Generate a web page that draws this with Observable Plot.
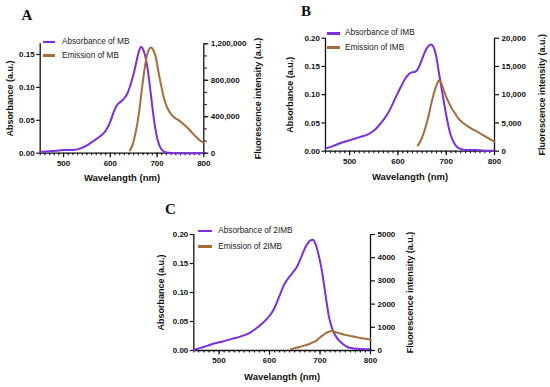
<!DOCTYPE html>
<html><head><meta charset="utf-8">
<script src="https://cdn.jsdelivr.net/npm/d3@7"></script>
<script src="https://cdn.jsdelivr.net/npm/@observablehq/plot@0.6"></script>
<style>
body{margin:0;background:#fff}
#c{position:relative;width:550px;height:387px;overflow:hidden;font-family:"Liberation Sans",Arial,sans-serif;background:#fff}
#c svg{position:absolute;left:0;top:0}
.lg{position:absolute;font-size:8.2px;color:#1a1a1a;white-space:nowrap;line-height:10px;height:10px}
.sw{position:absolute;height:2.6px;width:12.5px}
.let{position:absolute;font-family:"Liberation Serif","DejaVu Serif",serif;font-weight:bold;font-size:15px;line-height:15px;color:#111}
</style></head><body><div id="c"></div><script>
// ---- data (wavelength nm / values) ----
const xTicks = [500, 600, 700, 800];
const xMinor = d3.range(450, 801, 10);
const titleX = "Wavelangth (nm)";
const titleAbs = "Absorbance (a.u.)";
const titleEm = "Fluorescence intensity (a.u.)";

// Panel A: MB
const absA_nm  = [450,470,490,500,520,535,550,565,575,590,600,608,614,620,628,636,644,652,658,663,666,670,675,680,685,690,695,700,706,712,720,740,800];
const absA_val = [0.002,0.003,0.004,0.005,0.005,0.007,0.012,0.019,0.024,0.034,0.048,0.064,0.073,0.077,0.082,0.090,0.106,0.127,0.146,0.159,0.162,0.158,0.147,0.127,0.100,0.070,0.043,0.024,0.010,0.004,0.001,0.000,0.000];
const emA_nm   = [642,648,653,658,662,667,672,677,682,687,692,697,702,708,714,720,727,735,745,755,765,775,785,792,800];
const emA_val  = [30000,100000,200000,330000,470000,680000,880000,1040000,1130000,1160000,1130000,1060000,920000,760000,620000,520000,450000,400000,365000,325000,280000,225000,172000,140000,115000];
const absA_ticks = [0, 0.05, 0.10, 0.15];
const emA_ticks = [0, 400000, 800000, 1200000];

// Panel B: IMB
const absB_nm  = [450,465,480,495,510,525,536,546,556,566,577,586,594,602,608,614,620,627,633,638,644,650,656,662,668,672,677,681,685,690,695,700,705,710,716,722,730,740,760,780,800];
const absB_val = [0.005,0.009,0.014,0.018,0.022,0.026,0.029,0.034,0.041,0.051,0.064,0.078,0.093,0.107,0.117,0.127,0.134,0.139,0.140,0.142,0.150,0.163,0.176,0.185,0.189,0.187,0.176,0.160,0.138,0.113,0.088,0.064,0.043,0.027,0.015,0.008,0.004,0.002,0.002,0.001,0.001];
const emB_nm   = [641,647,653,658,663,668,673,678,683,686,690,695,700,706,712,719,726,735,745,756,765,775,785,793,800];
const emB_val  = [1000,1800,3100,4500,6100,8000,9800,11200,12300,12600,12000,10800,9600,8500,7500,6600,5700,5000,4400,3800,3400,2900,2400,2000,1650];
const absB_ticks = [0, 0.05, 0.10, 0.15, 0.20];
const emB_ticks = [0, 5000, 10000, 15000, 20000];

// Panel C: 2IMB
const absC_nm  = [450,465,476,490,509,525,542,552,562,572,582,592,602,609,615,622,628,635,642,651,656,661,666,671,676,681,686,690,694,699,704,708,711,714,717,721,724,729,734,744,754,764,774,800];
const absC_val = [0.001,0.005,0.008,0.012,0.016,0.020,0.024,0.027,0.031,0.037,0.044,0.052,0.062,0.072,0.084,0.099,0.112,0.122,0.130,0.140,0.147,0.157,0.168,0.178,0.185,0.190,0.191,0.186,0.176,0.158,0.136,0.113,0.095,0.078,0.061,0.047,0.038,0.028,0.021,0.012,0.006,0.004,0.003,0.002];
const emC_nm   = [642,650,661,670,681,688,694,699,704,709,714,719,724,729,734,740,747,754,760,767,774,780,787,793,800];
const emC_val  = [60,100,160,220,300,370,445,540,630,710,780,820,840,810,770,730,690,660,630,600,565,540,515,495,475];
const absC_ticks = [0, 0.05, 0.10, 0.15, 0.20];
const emC_ticks = [0, 1000, 2000, 3000, 4000, 5000];

const PURPLE = "#7b2fdc";
const BROWN = "#a46d3a";

const panels = [
  {L:39.7, R:203.3, T:43.3, B:152.7, absNm:absA_nm, absVal:absA_val, emNm:emA_nm, emVal:emA_val,
   absMax:0.1663, emMax:1200000, absTicks:absA_ticks, emTicks:emA_ticks, emMinor:d3.range(0, 1200001, 400000/3),
   emFmt:d3.format(","), dxL:-29.7, dxR:54.7, dyX:24.5,
   letter:"A", lx:21.5, ly:20.6,
   leg:{x0:43.3, x1:55.3, tx:62, y:[42,55.7]}, names:["Absorbance of MB","Emission of MB"]},
  {L:325, R:494, T:37.7, B:150.7, absNm:absB_nm, absVal:absB_val, emNm:emB_nm, emVal:emB_val,
   absMax:0.2, emMax:20000, absTicks:absB_ticks, emTicks:emB_ticks, emMinor:[],
   emFmt:d3.format(","), dxL:-35, dxR:47.7, dyX:25.3,
   letter:"B", lx:301, ly:16.8,
   leg:{x0:326.7, x1:340, tx:345, y:[33.3,47.7]}, names:["Absorbance of IMB","Emission of IMB"]},
  {L:193.3, R:370, T:234, B:350, absNm:absC_nm, absVal:absC_val, emNm:emC_nm, emVal:emC_val,
   absMax:0.2, emMax:5000, absTicks:absC_ticks, emTicks:emC_ticks, emMinor:[],
   emFmt:d3.format("d"), dxL:-33, dxR:40, dyX:26.7,
   letter:"C", lx:165, ly:214,
   leg:{x0:198.3, x1:211.7, tx:218.3, y:[231,246.7]}, names:["Absorbance of 2IMB","Emission of 2IMB"]}
];

const root = document.getElementById("c");
const style = {background:"transparent", fontFamily:"'Liberation Sans', Arial, sans-serif", fontSize:"8px", fontWeight:"bold", color:"#111", overflow:"visible"};

for (const p of panels) {
  const m = {width:550, height:387, marginLeft:p.L, marginRight:550-p.R, marginTop:p.T, marginBottom:387-p.B};
  const absData = p.absNm.map((x,i)=>({x, y:p.absVal[i]}));
  const emData = p.emNm.map((x,i)=>({x, y:p.emVal[i]}));
  const base = Plot.plot({...m, style,
    x:{domain:[450,800]}, y:{domain:[0,p.absMax]},
    marks:[
      Plot.axisX({ticks:xMinor, tickSize:2.5, tickFormat:()=>"", label:null, strokeWidth:1.1}),
      Plot.axisX({ticks:xTicks, tickSize:4.5, tickPadding:2.5, tickFormat:d3.format("d"), label:null, strokeWidth:1.2}),
      Plot.axisY({ticks:p.absTicks, tickSize:3.5, tickPadding:2, tickFormat:d3.format(".2f"), label:null, strokeWidth:1.2}),
      Plot.ruleY([0], {strokeWidth:1.3}),
      Plot.ruleX([450], {strokeWidth:1.3}),
      Plot.line(absData, {x:"x", y:"y", stroke:PURPLE, strokeWidth:2, curve:"monotone-x"}),
      Plot.text([titleAbs], {text:d=>d, frameAnchor:"left", dx:p.dxL, rotate:-90, textAnchor:"middle", lineAnchor:"middle", fontSize:9, fontWeight:"bold"}),
      Plot.text([titleX], {text:d=>d, frameAnchor:"bottom", dy:p.dyX, textAnchor:"middle", lineAnchor:"middle", fontSize:9.5, fontWeight:"bold"})
    ]});
  const over = Plot.plot({...m, style,
    x:{domain:[450,800], axis:null}, y:{domain:[0,p.emMax]},
    marks:[
      Plot.axisY({anchor:"right", ticks:p.emMinor, tickSize:2.5, tickFormat:()=>"", label:null, strokeWidth:1.1}),
      Plot.axisY({anchor:"right", ticks:p.emTicks, tickSize:4, tickPadding:3, tickFormat:p.emFmt, label:null, strokeWidth:1.2}),
      Plot.ruleX([800], {strokeWidth:1.3}),
      Plot.line(emData, {x:"x", y:"y", stroke:BROWN, strokeWidth:2, curve:"monotone-x"}),
      Plot.text([titleEm], {text:d=>d, frameAnchor:"right", dx:p.dxR, rotate:-90, textAnchor:"middle", lineAnchor:"middle", fontSize:9, fontWeight:"bold"})
    ]});
  root.appendChild(base);
  root.appendChild(over);

  // legend
  const cols = [PURPLE, BROWN];
  p.names.forEach((name, i) => {
    const sw = document.createElement("div");
    sw.className = "sw";
    sw.style.left = p.leg.x0 + "px";
    sw.style.width = (p.leg.x1 - p.leg.x0) + "px";
    sw.style.top = (p.leg.y[i] - 1.3) + "px";
    sw.style.background = cols[i];
    root.appendChild(sw);
    const t = document.createElement("div");
    t.className = "lg";
    t.style.left = p.leg.tx + "px";
    t.style.top = (p.leg.y[i] - 5) + "px";
    t.textContent = name;
    root.appendChild(t);
  });
  const L = document.createElement("div");
  L.className = "let";
  L.style.left = p.lx + "px";
  L.style.top = (p.ly - 12.5) + "px";
  L.textContent = p.letter;
  root.appendChild(L);
}
</script></body></html>
